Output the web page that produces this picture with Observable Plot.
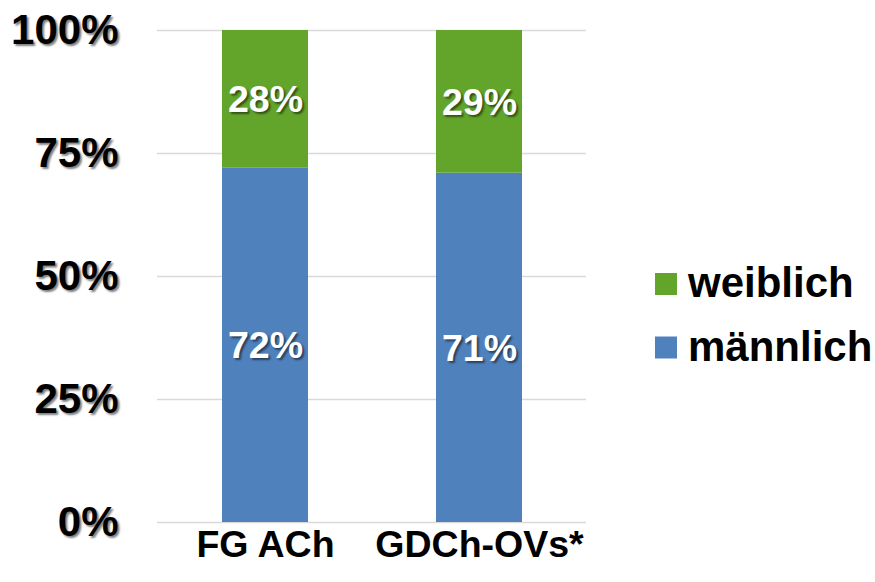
<!DOCTYPE html>
<html><head><meta charset="utf-8">
<script src="https://cdn.jsdelivr.net/npm/d3@7"></script>
<script src="https://cdn.jsdelivr.net/npm/@observablehq/plot@0.6"></script>
<style>
body{margin:0;background:#fff;}
#wrap{position:relative;width:875px;height:582px;}
#legend{position:absolute;left:0;top:0;}
</style></head><body><div id="wrap"></div>
<script>
const groups = ["FG ACh", "GDCh-OVs*"];
const series = ["männlich", "weiblich"];
const maennlich = [72, 71];
const weiblich = [28, 29];
const yTicks = [0, 25, 50, 75, 100];
const colors = ["#4F81BD", "#63A52A"];
const legendOrder = ["weiblich", "männlich"];

const data = [];
groups.forEach((g, i) => {
  data.push({group: g, sex: "männlich", value: maennlich[i]});
  data.push({group: g, sex: "weiblich", value: weiblich[i]});
});

const font = "'Liberation Sans', Arial, sans-serif";
const chart = Plot.plot({
  width: 875, height: 582,
  marginLeft: 157, marginRight: 289, marginTop: 30, marginBottom: 60,
  style: {fontFamily: font, background: "#fff", overflow: "visible"},
  x: {domain: groups, paddingInner: 0.6, paddingOuter: 0.3, label: null},
  y: {domain: [0, 100], label: null},
  color: {domain: series, range: colors},
  marks: [
    Plot.gridY(yTicks, {stroke: "#d9d9d9", strokeOpacity: 1, strokeWidth: 1.5}),
    Plot.barY(data, {x: "group", y: "value", fill: "sex", order: series}),
    Plot.text(data, Plot.stackY({x: "group", y: "value", z: "sex", order: series,
      text: d => d.value + "%", fill: "white", fontSize: 37.5, fontWeight: "bold", dy: 1})),
    Plot.axisY(yTicks, {tickSize: 0, tickPadding: 39, tickFormat: d => d + "%",
      fontSize: 42, fontWeight: "bold", fill: "#000", label: null}),
    Plot.axisX({tickSize: 0, tickPadding: 8, fontSize: 37.5, fontWeight: "bold", fill: "#000", label: null})
  ]
});
document.getElementById("wrap").appendChild(chart);

// text shadows like the original
d3.select(chart).selectAll("g[aria-label='text'] text, g[aria-label='y-axis tick label'] text")
  .style("text-shadow", "2px 2px 2px rgba(0,0,0,0.5)");

// legend on the right
const color = chart.scale("color");
const lg = d3.select("#wrap").append("svg").attr("id", "legend")
  .attr("width", 875).attr("height", 582);
const items = lg.selectAll("g").data(legendOrder).join("g")
  .attr("transform", (d, i) => `translate(655, ${273 + i * 63.5})`);
items.append("rect").attr("width", 22).attr("height", 22)
  .attr("fill", d => color.apply(d));
items.append("text").attr("x", 33).attr("y", 24)
  .attr("font-family", font).attr("font-size", 42).attr("font-weight", "bold")
  .attr("fill", "#000").text(d => d);
</script></body></html>
